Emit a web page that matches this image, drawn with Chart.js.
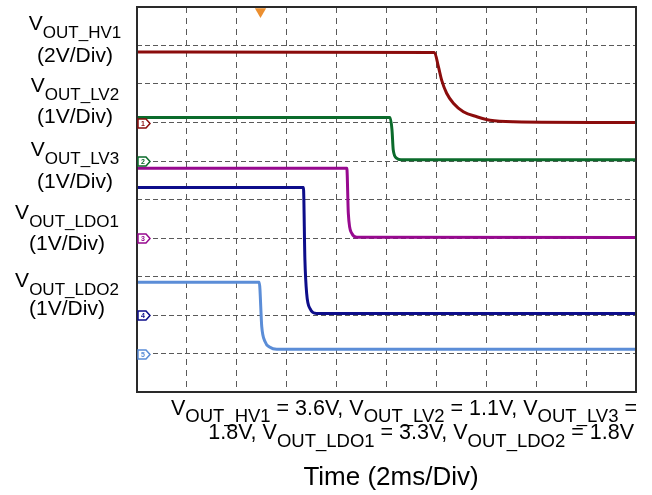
<!DOCTYPE html>
<html>
<head>
<meta charset="utf-8">
<script src="https://cdn.jsdelivr.net/npm/chart.js@4.4.0/dist/chart.umd.min.js"></script>
<style>
  html, body { margin: 0; padding: 0; background: #fff; }
</style>
</head>
<body>
<canvas id="grafico" width="652" height="495"></canvas>
<script>
// Tiempo en ms (2 ms/div), tension en divisiones de pantalla
const tHV1 = [0, 11.92, 12.08, 12.21, 12.41, 12.68, 13.08, 13.62, 14.15, 15.08, 20];
const vHV1 = [8.83, 8.82, 8.45, 8.10, 7.76, 7.50, 7.28, 7.15, 7.06, 7.02, 7.00];

const tLV2 = [0, 10.14, 10.22, 10.27, 10.41, 10.58, 20];
const vLV2 = [7.13, 7.13, 6.81, 6.29, 6.07, 6.03, 6.03];

const tLV3 = [0, 8.41, 8.47, 8.61, 8.81, 20];
const vLV3 = [5.81, 5.81, 4.64, 4.12, 4.02, 4.01];

const tLDO1 = [0, 6.67, 6.73, 6.80, 6.93, 7.20, 20];
const vLDO1 = [5.31, 5.31, 3.43, 2.56, 2.17, 2.04, 2.04];

const tLDO2 = [0, 4.90, 5.00, 5.13, 5.33, 5.60, 20];
const vLDO2 = [2.85, 2.85, 1.70, 1.31, 1.16, 1.11, 1.11];

// Nivel de referencia (marcador de canal) de cada traza
const nivelesCanal = [7, 6, 4, 2, 1];
// Punto de disparo
const tDisparo = [4.95];
const vDisparo = [9.88];

const nombres = ['HV1', 'LV2', 'LV3', 'LDO1', 'LDO2'];
const escalas = ['(2V/Div)', '(1V/Div)', '(1V/Div)', '(1V/Div)', '(1V/Div)'];
const valores = ['3.6V', '1.1V', '1.8V', '3.3V', '1.8V'];
const tituloX = 'Time (2ms/Div)';

const colores = ['#8b0c0c', '#0b6b2b', '#97098f', '#0d0d8a', '#5b8dd7'];

const pares = (ts, vs) => ts.map((t, i) => ({ x: t, y: vs[i] }));

const FUENTE = '"Liberation Sans", Arial, sans-serif';

// Dibuja texto con subindices: partes = [[texto, esSub], ...]
function textoSub(ctx, partes, x, base, alin, tam, tamSub, despSub) {
    let ancho = 0;
    const medidas = partes.map(([txt, sub]) => {
        ctx.font = (sub ? tamSub : tam) + 'px ' + FUENTE;
        const w = ctx.measureText(txt).width;
        ancho += w;
        return w;
    });
    let x0 = x;
    if (alin === 'center') x0 = x - ancho / 2;
    if (alin === 'right') x0 = x - ancho;
    partes.forEach(([txt, sub], i) => {
        ctx.font = (sub ? tamSub : tam) + 'px ' + FUENTE;
        ctx.fillText(txt, x0, sub ? base + despSub : base);
        x0 += medidas[i];
    });
}

const pluginOsciloscopio = {
    id: 'osciloscopio',
    afterDatasetsDraw(chart) {
        const { ctx, chartArea: a, scales: { y } } = chart;
        ctx.save();
        // marco
        ctx.strokeStyle = '#2a2a2a';
        ctx.lineWidth = 2;
        ctx.strokeRect(a.left, a.top, a.right - a.left, a.bottom - a.top);

        // marcadores de canal
        nivelesCanal.forEach((nivel, i) => {
            const py = Math.round(y.getPixelForValue(nivel)) + 0.5;
            const px = a.left + 1;
            ctx.beginPath();
            ctx.moveTo(px, py - 4.5);
            ctx.lineTo(px + 8, py - 4.5);
            ctx.lineTo(px + 12, py);
            ctx.lineTo(px + 8, py + 4.5);
            ctx.lineTo(px, py + 4.5);
            ctx.closePath();
            ctx.fillStyle = '#fff';
            ctx.fill();
            ctx.strokeStyle = colores[i];
            ctx.lineWidth = 1.5;
            ctx.stroke();
            ctx.fillStyle = colores[i];
            ctx.font = 'bold 7px ' + FUENTE;
            ctx.textAlign = 'center';
            ctx.textBaseline = 'middle';
            ctx.fillText(String(i + 1), px + 5, py + 0.5);
        });
        ctx.restore();
    },
    afterDraw(chart) {
        const { ctx } = chart;
        ctx.save();
        ctx.fillStyle = '#000';
        ctx.textAlign = 'left';
        ctx.textBaseline = 'alphabetic';

        // etiquetas de la izquierda
        const posEtiq = [
            { cx: 75, b1: 30, b2: 62 },
            { cx: 75, b1: 92, b2: 123 },
            { cx: 75, b1: 156, b2: 188 },
            { cx: 67, b1: 219, b2: 250 },
            { cx: 67, b1: 287, b2: 315 }
        ];
        nombres.forEach((n, i) => {
            const p = posEtiq[i];
            textoSub(ctx, [['V', false], ['OUT_' + n, true]], p.cx, p.b1, 'center', 21, 17, 8);
            textoSub(ctx, [[escalas[i], false]], p.cx, p.b2, 'center', 21, 17, 0);
        });

        // nota inferior
        const l1 = [];
        [0, 1, 2].forEach(i => {
            l1.push(['V', false], ['OUT_' + nombres[i], true]);
            l1.push([i < 2 ? ' = ' + valores[i] + ', ' : ' =', false]);
        });
        const l2 = [[valores[2] + ', ', false]];
        [3, 4].forEach(i => {
            l2.push(['V', false], ['OUT_' + nombres[i], true]);
            l2.push([' = ' + valores[i] + (i < 4 ? ', ' : ''), false]);
        });
        textoSub(ctx, l1, 637, 415, 'right', 21.5, 18.5, 6.5);
        textoSub(ctx, l2, 634, 439, 'right', 21.5, 18.5, 8);

        // titulo eje X
        textoSub(ctx, [[tituloX, false]], 391, 485, 'center', 26, 26, 0);
        ctx.restore();
    }
};

const series = [
    pares(tHV1, vHV1), pares(tLV2, vLV2), pares(tLV3, vLV3),
    pares(tLDO1, vLDO1), pares(tLDO2, vLDO2)
];

const datasets = series.map((d, i) => ({
    label: 'VOUT_' + nombres[i],
    data: d,
    borderColor: colores[i],
    borderWidth: 3,
    pointRadius: 0,
    cubicInterpolationMode: 'monotone',
    fill: false
}));

datasets.push({
    label: 'Disparo',
    data: pares(tDisparo, vDisparo),
    showLine: false,
    pointStyle: 'triangle',
    rotation: 180,
    pointRadius: 6.5,
    backgroundColor: '#ec8f2f',
    borderWidth: 0,
    clip: false
});

new Chart(document.getElementById('grafico').getContext('2d'), {
    type: 'line',
    data: { datasets: datasets },
    options: {
        responsive: false,
        animation: false,
        layout: { padding: { left: 137, top: 7, right: 16, bottom: 103 } },
        scales: {
            x: {
                type: 'linear', min: 0, max: 20,
                ticks: { display: false, stepSize: 2 },
                grid: { color: '#5a5a5a', lineWidth: 1, drawTicks: false },
                border: { display: false, dash: [6, 5] }
            },
            y: {
                type: 'linear', min: 0, max: 10,
                ticks: { display: false, stepSize: 1 },
                grid: { color: '#5a5a5a', lineWidth: 1, drawTicks: false },
                border: { display: false, dash: [5, 3] }
            }
        },
        plugins: {
            legend: { display: false },
            tooltip: { enabled: false }
        }
    },
    plugins: [pluginOsciloscopio]
});
</script>
</body>
</html>
